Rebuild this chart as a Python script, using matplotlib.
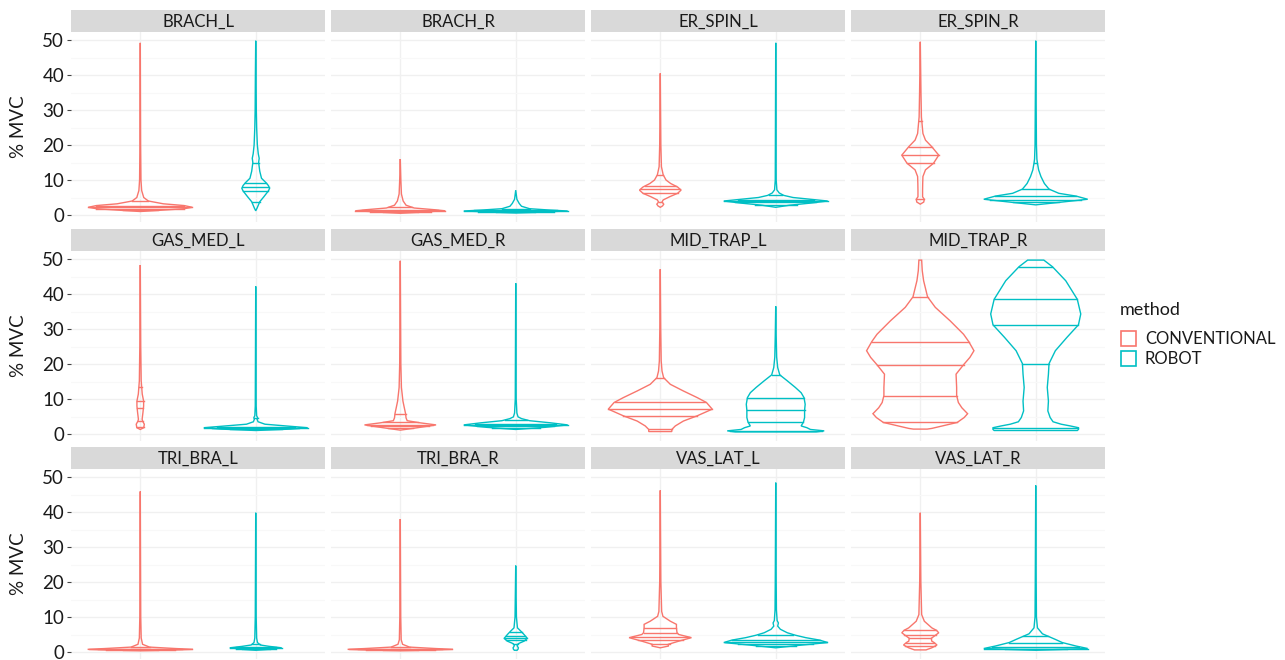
import numpy as np
import matplotlib
matplotlib.use("Agg")
from matplotlib import pyplot as plt
from matplotlib.patches import Rectangle

plt.rcParams['font.family'] = ['Lato', 'DejaVu Sans']

muscles = ["BRACH_L", "BRACH_R", "ER_SPIN_L", "ER_SPIN_R",
           "GAS_MED_L", "GAS_MED_R", "MID_TRAP_L", "MID_TRAP_R",
           "TRI_BRA_L", "TRI_BRA_R", "VAS_LAT_L", "VAS_LAT_R"]
methods = ["CONVENTIONAL", "ROBOT"]
colors = ["#F8766D", "#00BFC4"]

# violin outlines: %MVC levels and half-widths (x units), one entry per muscle
conv_y = [
    [1.0, 1.3, 1.8, 2.2, 2.7, 3.2, 4.0, 5.0, 7.0, 10.0, 20.0, 49.2],
    [0.5, 0.9, 1.2, 1.5, 2.0, 2.8, 4.0, 6.0, 10.0, 16.0],
    [2.2, 2.6, 3.1, 3.7, 4.3, 5.2, 6.2, 7.1, 8.0, 9.0, 10.0, 11.5, 13.8, 20.0, 40.5],
    [3.1, 3.7, 4.5, 5.2, 7.1, 9.0, 11.0, 12.9, 14.8, 17.1, 19.5, 21.4, 23.3, 28.0, 35.0, 49.5],
    [1.3, 1.8, 2.8, 3.7, 4.2, 6.1, 8.0, 9.4, 11.4, 15.2, 25.0, 48.3],
    [1.1, 1.8, 2.6, 3.2, 3.8, 4.6, 5.8, 7.5, 9.4, 13.3, 20.0, 49.5],
    [0.7, 1.3, 2.3, 3.7, 5.2, 7.1, 9.0, 10.4, 12.3, 14.2, 16.1, 18.0, 20.9, 30.0, 47.1],
    [1.4, 1.6, 3.3, 4.7, 5.8, 7.5, 9.0, 11.0, 13.3, 17.1, 19.8, 21.9, 23.8, 26.4,
     28.5, 32.3, 36.2, 39.2, 43.8, 46.7, 49.7],
    [0.4, 0.6, 0.76, 1.0, 1.4, 2.2, 4.0, 10.0, 45.9],
    [0.4, 0.6, 0.76, 1.0, 1.4, 2.2, 3.5, 10.0, 38.0],
    [1.2, 1.7, 2.2, 3.1, 4.1, 5.0, 5.5, 6.9, 7.9, 8.8, 10.2, 11.6, 20.0, 46.2],
    [0.6, 1.2, 2.0, 2.7, 3.1, 3.9, 4.5, 5.5, 6.2, 6.9, 8.8, 10.7, 20.0, 39.8],
]
conv_w = [
    [0.0, 0.15, 0.38, 0.45, 0.38, 0.2, 0.07, 0.03, 0.012, 0.006, 0.003, 0.0],
    [0.0, 0.2, 0.39, 0.3, 0.12, 0.05, 0.025, 0.01, 0.005, 0.0],
    [0.0, 0.02, 0.03, 0.015, 0.025, 0.08, 0.15, 0.18, 0.15, 0.09, 0.05, 0.025, 0.01, 0.005, 0.0],
    [0.0, 0.03, 0.035, 0.02, 0.02, 0.021, 0.023, 0.045, 0.115, 0.16, 0.1, 0.045, 0.023, 0.01, 0.006, 0.0],
    [0.0, 0.03, 0.035, 0.02, 0.016, 0.023, 0.029, 0.029, 0.017, 0.008, 0.004, 0.0],
    [0.0, 0.15, 0.31, 0.17, 0.06, 0.05, 0.046, 0.035, 0.023, 0.01, 0.005, 0.0],
    [0.1, 0.1, 0.13, 0.2, 0.32, 0.45, 0.40, 0.32, 0.2, 0.087, 0.029, 0.015, 0.008, 0.004, 0.0],
    [0.06, 0.1, 0.32, 0.38, 0.41, 0.36, 0.33, 0.315, 0.315, 0.31, 0.375, 0.43, 0.465, 0.42,
     0.375, 0.26, 0.13, 0.063, 0.029, 0.017, 0.012],
    [0.0, 0.3, 0.456, 0.3, 0.08, 0.02, 0.008, 0.004, 0.0],
    [0.0, 0.3, 0.456, 0.3, 0.08, 0.02, 0.008, 0.004, 0.0],
    [0.0, 0.07, 0.07, 0.16, 0.27, 0.16, 0.145, 0.14, 0.14, 0.087, 0.023, 0.012, 0.005, 0.0],
    [0.05, 0.1, 0.145, 0.12, 0.1, 0.095, 0.12, 0.16, 0.14, 0.1, 0.035, 0.012, 0.005, 0.0],
]
robot_y = [
    [1.2, 2.0, 3.8, 5.2, 6.9, 7.6, 8.4, 9.2, 10.5, 12.5, 15.0, 16.2, 17.5, 20.0, 25.0, 30.0, 40.0, 49.8],
    [0.6, 0.9, 1.15, 1.4, 1.8, 2.5, 3.3, 4.5, 7.1],
    [2.2, 2.8, 3.4, 4.0, 4.5, 5.0, 5.6, 6.3, 7.2, 10.0, 49.2],
    [2.9, 3.6, 4.5, 5.4, 6.2, 7.4, 9.0, 11.0, 12.9, 14.8, 16.0, 20.0, 30.0, 49.8],
    [1.0, 1.4, 1.8, 2.2, 2.8, 3.5, 4.2, 4.7, 5.2, 8.0, 42.2],
    [1.3, 1.9, 2.6, 3.2, 3.8, 4.4, 4.9, 6.0, 10.0, 43.1],
    [0.6, 0.9, 1.3, 1.8, 2.3, 3.4, 4.7, 6.8, 8.5, 10.4, 11.8, 13.3, 15.2, 16.9, 19.0, 22.0, 28.0, 36.5],
    [1.0, 1.3, 1.8, 2.3, 2.8, 3.5, 4.7, 6.6, 9.4, 13.3, 17.1, 20.1, 23.8, 27.6, 31.2,
     34.3, 38.5, 43.8, 47.8, 49.7],
    [0.5, 0.8, 1.2, 1.6, 2.0, 2.7, 4.0, 10.0, 39.8],
    [0.5, 0.8, 1.2, 1.6, 2.0, 2.4, 3.1, 3.9, 5.0, 6.0, 6.9, 10.0, 24.7],
    [1.2, 2.0, 2.7, 3.4, 4.1, 4.8, 5.5, 6.5, 7.4, 8.3, 9.0, 12.0, 20.0, 48.4],
    [0.5, 1.0, 1.7, 2.7, 3.6, 5.2, 6.9, 10.0, 20.0, 47.6],
]
robot_w = [
    [0.0, 0.012, 0.035, 0.07, 0.11, 0.12, 0.11, 0.09, 0.05, 0.035, 0.025, 0.03, 0.022, 0.014, 0.008, 0.005, 0.003, 0.0],
    [0.0, 0.25, 0.45, 0.3, 0.12, 0.05, 0.03, 0.01, 0.0],
    [0.0, 0.12, 0.3, 0.45, 0.3, 0.15, 0.07, 0.03, 0.01, 0.004, 0.0],
    [0.0, 0.2, 0.45, 0.35, 0.2, 0.115, 0.075, 0.045, 0.025, 0.015, 0.01, 0.006, 0.004, 0.0],
    [0.0, 0.3, 0.45, 0.3, 0.08, 0.02, 0.012, 0.016, 0.008, 0.004, 0.0],
    [0.0, 0.25, 0.45, 0.3, 0.12, 0.05, 0.02, 0.01, 0.004, 0.0],
    [0.35, 0.42, 0.3, 0.27, 0.22, 0.24, 0.25, 0.25, 0.255, 0.245, 0.22, 0.17, 0.1, 0.035, 0.017, 0.008, 0.004, 0.0],
    [0.36, 0.37, 0.37, 0.3, 0.22, 0.15, 0.125, 0.105, 0.11, 0.1, 0.11, 0.115, 0.17, 0.27, 0.37,
     0.39, 0.36, 0.26, 0.145, 0.07],
    [0.0, 0.12, 0.225, 0.12, 0.04, 0.015, 0.008, 0.004, 0.0],
    [0.012, 0.02, 0.023, 0.015, 0.012, 0.023, 0.072, 0.1, 0.072, 0.043, 0.015, 0.006, 0.0],
    [0.0, 0.23, 0.45, 0.38, 0.26, 0.17, 0.1, 0.04, 0.017, 0.023, 0.012, 0.006, 0.004, 0.0],
    [0.0, 0.45, 0.35, 0.23, 0.17, 0.058, 0.015, 0.006, 0.004, 0.0],
]

# 5th, 25th, 50th, 75th, 95th percentiles
conv_q = [
    [1.3, 1.8, 2.2, 2.7, 4.0],
    [0.8, 1.0, 1.2, 1.4, 2.2],
    [3.7, 6.2, 7.3, 8.3, 11.5],
    [4.5, 14.8, 17.1, 19.5, 27.0],
    [2.0, 3.7, 7.4, 9.5, 13.5],
    [1.6, 2.3, 2.7, 3.3, 5.8],
    [1.3, 5.2, 7.1, 9.2, 15.9],
    [3.3, 11.0, 19.8, 26.4, 39.2],
    [0.5, 0.6, 0.75, 0.9, 1.4],
    [0.5, 0.6, 0.75, 0.9, 1.4],
    [2.3, 3.4, 4.3, 5.5, 6.9],
    [1.7, 2.7, 3.9, 5.0, 6.2],
]
robot_q = [
    [3.8, 6.9, 7.9, 9.2, 15.0],
    [0.8, 1.0, 1.15, 1.3, 1.8],
    [3.0, 3.6, 4.0, 4.4, 5.8],
    [3.6, 4.3, 5.4, 7.4, 14.8],
    [1.3, 1.6, 1.8, 2.1, 4.7],
    [1.8, 2.2, 2.6, 3.0, 4.0],
    [0.8, 3.4, 6.8, 10.4, 16.9],
    [1.6, 20.1, 31.2, 38.5, 47.8],
    [0.8, 1.0, 1.2, 1.4, 2.2],
    [2.4, 3.5, 4.0, 4.6, 5.7],
    [1.8, 2.3, 2.8, 3.4, 5.0],
    [0.8, 1.0, 1.5, 2.7, 4.5],
]

W, H = 1285, 660
col_left = [71, 331, 591, 851]
strip_top = [10, 229, 447]
panel_w, strip_h, panel_h = 254, 22, 190


def rect(x, y, w, h):
    return [x / W, 1 - (y + h) / H, w / W, h / H]


def draw_violin(ax, pos, ys, ws, qs, color):
    ys = np.asarray(ys, dtype=float)
    ws = np.asarray(ws, dtype=float)
    xs = np.concatenate([pos - ws, (pos + ws)[::-1]])
    yy = np.concatenate([ys, ys[::-1]])
    ax.fill(xs, yy, facecolor="none", edgecolor=color, lw=1.0, zorder=3)
    for q in qs:
        hw = np.interp(q, ys, ws)
        ax.plot([pos - hw, pos + hw], [q, q], color=color, lw=1.0, zorder=3)


fig = plt.figure(figsize=(W / 100, H / 100), dpi=100)

for i, name in enumerate(muscles):
    r, c = divmod(i, 4)
    x0 = col_left[c]
    y0 = strip_top[r]

    strip = fig.add_axes(rect(x0, y0, panel_w, strip_h))
    strip.set_facecolor("#D9D9D9")
    strip.set_xticks([])
    strip.set_yticks([])
    for s in strip.spines.values():
        s.set_visible(False)
    strip.text(0.5, 0.45, name, ha="center", va="center", fontsize=12,
               color="#1a1a1a", transform=strip.transAxes)

    ax = fig.add_axes(rect(x0, y0 + strip_h, panel_w, panel_h))
    ax.set_xlim(0.4, 2.6)
    ax.set_ylim(-2.0, 52.3)
    for s in ax.spines.values():
        s.set_visible(False)
    ax.set_yticks([0, 10, 20, 30, 40, 50])
    ax.set_yticks([5, 15, 25, 35, 45], minor=True)
    ax.set_xticks([1, 2])
    ax.grid(True, which="major", color="#F0F0F0", lw=1.0, zorder=0)
    ax.grid(True, which="minor", axis="y", color="#F8F8F8", lw=0.8, zorder=0)
    ax.tick_params(axis="x", length=0, labelbottom=False)
    ax.tick_params(axis="y", which="minor", length=0)
    if c == 0:
        ax.tick_params(axis="y", which="major", length=3, width=0.8,
                       color="#444444", labelsize=13.5, labelcolor="#1a1a1a", pad=2)
    else:
        ax.tick_params(axis="y", which="major", length=0, labelleft=False)

    draw_violin(ax, 1, conv_y[i], conv_w[i], conv_q[i], colors[0])
    draw_violin(ax, 2, robot_y[i], robot_w[i], robot_q[i], colors[1])

# y-axis title for each row
for r in range(3):
    yc = strip_top[r] + strip_h + panel_h / 2
    fig.text(19 / W, 1 - yc / H, "% MVC", rotation=90, ha="center", va="center",
             fontsize=13.5, color="#1a1a1a")

# legend
fig.text(1120 / W, 1 - 310 / H, "method", ha="left", va="center", fontsize=13, color="#1a1a1a")
for k, (lab, col) in enumerate(zip(methods, colors)):
    ytop = 331 + k * 20
    fig.add_artist(Rectangle((1121 / W, 1 - (ytop + 15) / H), 15 / W, 15 / H,
                             transform=fig.transFigure, fill=False, edgecolor=col, lw=1.2))
    fig.text(1145 / W, 1 - (ytop + 7.5) / H, lab, ha="left", va="center",
             fontsize=12, color="#1a1a1a")

fig.savefig("out.png", dpi=100, facecolor="white")
